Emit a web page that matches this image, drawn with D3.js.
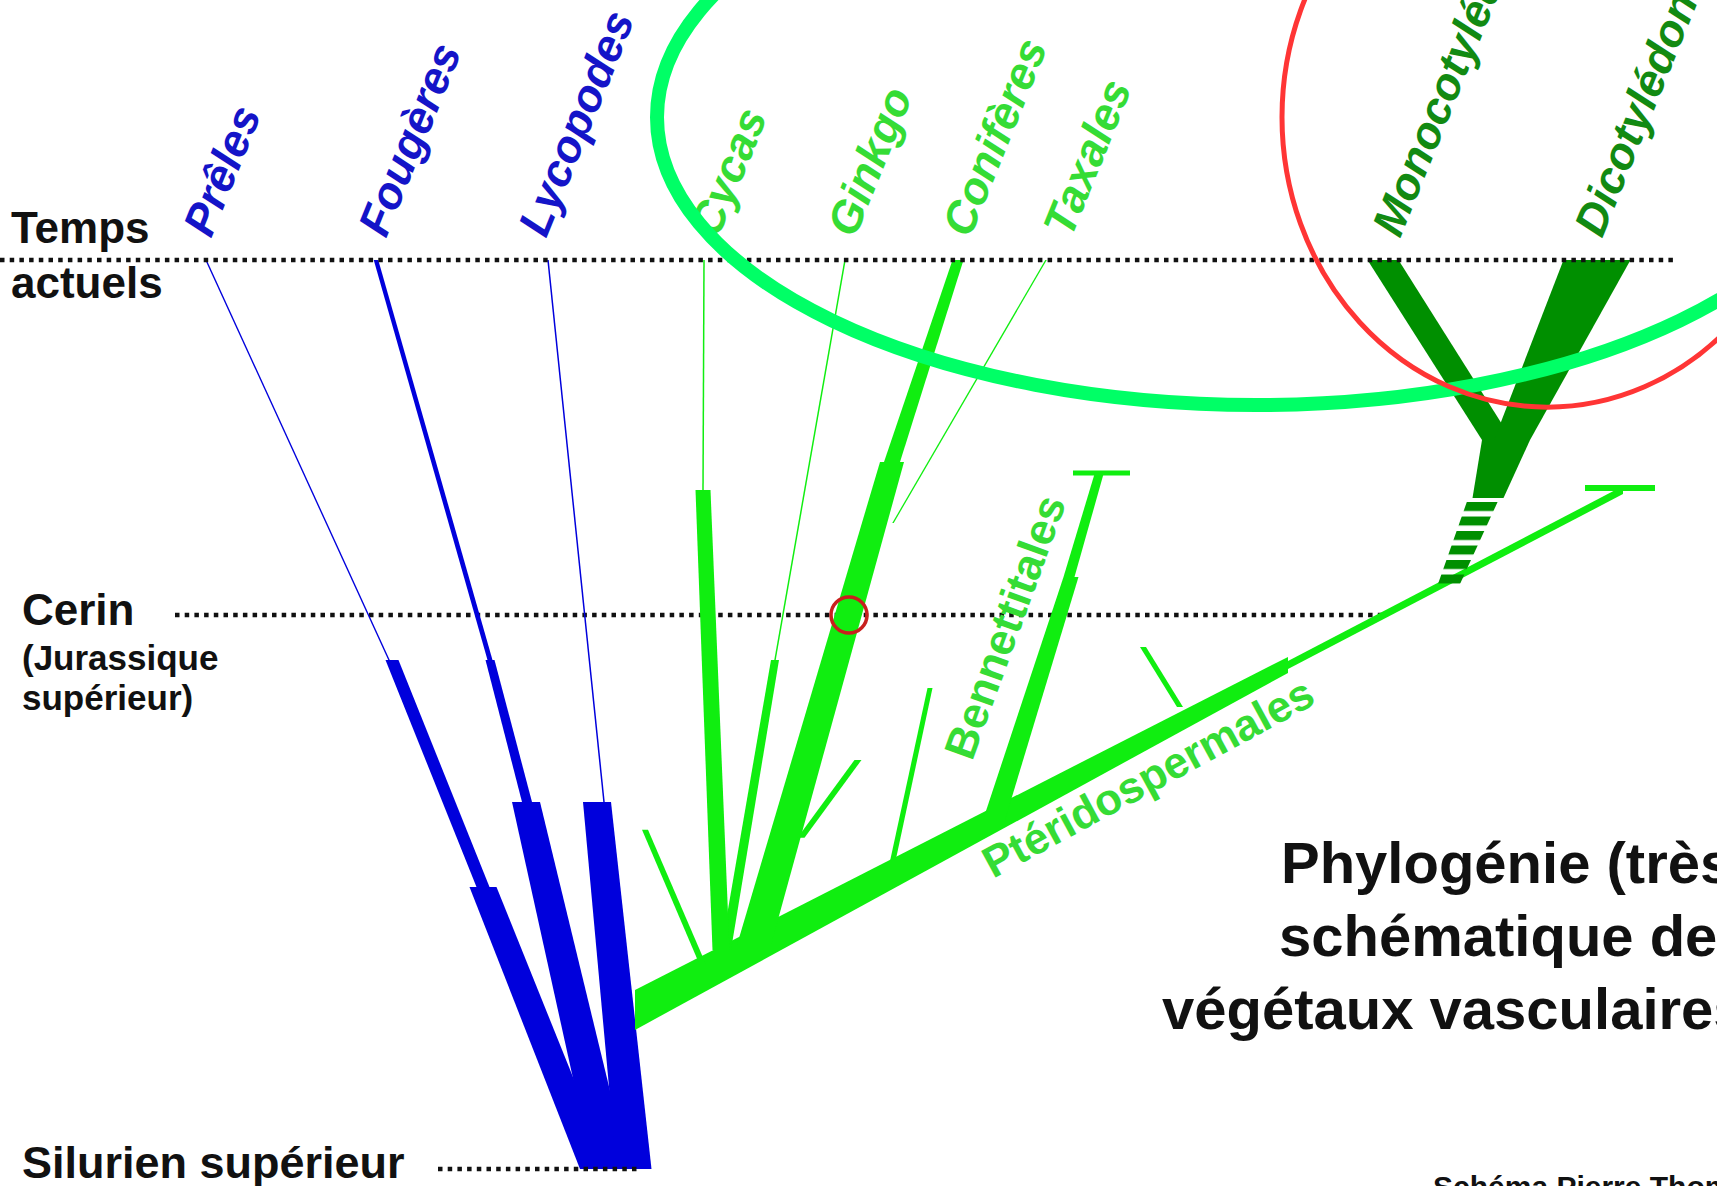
<!DOCTYPE html>
<html>
<head>
<meta charset="utf-8">
<script src="https://cdn.jsdelivr.net/npm/d3@7"></script>
<style>
body { margin: 0; background: #fff; }
svg { display: block; font-family: "Liberation Sans", Arial, sans-serif; }
</style>
</head>
<body>
<div id="chart"></div>
<script>
const width = 1717, height = 1186;

// time marks (age in Ma) and how far their dotted line runs (lineage units)
const timeLabels = [["Temps", "actuels"], ["Cerin", "(Jurassique", "supérieur)"], ["Silurien supérieur"]];
const timeAges = [0, 164, 420];
const timeLineFrom = [0, 17.5, 43.8];
const timeLineTo = [167.4, 138.5, 64.0];

// branches: [x0, t0, w0, x1, t1, w1] -> older end first (lineage pos, age Ma, diversity)
const pteridoBranches = [
    [38.9, 184.8, 0.15, 20.6, 0, 0.15],
    [48.3, 289.7, 1.3, 39.2, 184.8, 1.3],
    [59.5, 420, 3.0, 48.3, 289.7, 2.7],
    [49.0, 184.8, 0.5, 37.6, 0, 0.45],
    [52.7, 250.4, 1.0, 49.0, 184.8, 0.9],
    [61.1, 420, 3.6, 52.6, 250.4, 2.8],
    [60.4, 250.4, 0.15, 54.8, 0, 0.15],
    [63.4, 420, 3.5, 59.7, 250.4, 2.8]
];
const gymnoBranches = [
    [63.5, 346.5, 4.0, 128.8, 187.1, 1.6],
    [128.8, 187.1, 0.8, 162.3, 106.3, 0.8],
    [158.5, 105.4, 0.6, 165.5, 105.4, 0.6],
    [118.0, 206.5, 0.6, 114.3, 178.8, 0.6],
    [99.4, 258.7, 2.2, 107.1, 146.5, 1.5],
    [106.9, 146.5, 1.1, 109.9, 98.9, 0.9],
    [107.3, 98.4, 0.5, 113.0, 98.4, 0.5],
    [89.3, 277.2, 0.55, 93.0, 197.8, 0.5],
    [75.4, 316.5, 3.4, 89.2, 93.3, 2.4],
    [89.2, 93.3, 1.6, 95.8, 0, 1.1],
    [89.3, 121.5, 0.15, 104.6, 0, 0.15],
    [80.1, 267, 0.7, 85.8, 231, 0.7],
    [72.6, 318.8, 1.0, 77.5, 184.8, 0.8],
    [77.5, 184.8, 0.15, 84.5, 0, 0.15],
    [72.1, 318.8, 1.7, 70.3, 106.3, 1.5],
    [70.3, 106.3, 0.15, 70.4, 0, 0.15],
    [70.3, 325.7, 0.65, 64.5, 263.3, 0.6]
];
const angioBranches = [
    [148.8, 110, 3.1, 150.6, 83.2, 4.8],
    [149.7, 83.2, 3.0, 138.3, 0, 3.1],
    [151.2, 83.2, 3.6, 159.7, 0, 6.7]
];
const angioUncertain = [
    [144.9, 149.7, 2.2, 148.3, 110.9, 3.1]
];

// taxa at the top
const taxa = ["Prêles", "Fougères", "Lycopodes", "Cycas", "Ginkgo", "Conifères", "Taxales", "Monocotylédones", "Dicotylédones"];
const taxaGroup = ["pterido", "pterido", "pterido", "gymno", "gymno", "gymno", "gymno", "angio", "angio"];
const taxaLabelX = [21.1, 38.6, 54.6, 71.8, 85.5, 97.0, 107.1, 140.0, 160.2];

// labels written along a branch
const branchLabels = ["Bennettitales", "Ptéridospermales"];
const branchLabelX = [97.2, 99.3];
const branchLabelT = [231.9, 286.0];
const branchLabelAngle = [-70, -28.5];

// Cerin marker and the two circled groups
const cerinMarker = [84.9, 164];
const circledGroups = ["gymno", "angio"];
const circledX = [[65.7, 185.5], [128.2, 181.2]];
const circledT = [[-199, 67], [-200, 68]];

const titleLines = ["Phylogénie (très", "schématique des", "végétaux vasculaires"];
const creditText = "Schéma Pierre Thomas";

const colors = {pterido: "#0000dc", gymno: "#10ee10", angio: "#008f00"};
const labelColors = {pterido: "#1414c8", gymno: "#35dc35", angio: "#128a12"};
const circleColors = {gymno: "#00ff66", angio: "#ff3535"};

const svg = d3.select("#chart").append("svg")
    .attr("width", width)
    .attr("height", height);

svg.append("rect").attr("width", width).attr("height", height).attr("fill", "#fff");

const x = d3.scaleLinear().domain([0, 171.7]).range([0, width]);
const y = d3.scaleLinear().domain([0, 420]).range([260, 1169]);
const w = d3.scaleLinear().domain([0, 10]).range([0, 100]);

const defs = svg.append("defs");
const hatch = defs.append("pattern")
    .attr("id", "hatch")
    .attr("patternUnits", "userSpaceOnUse")
    .attr("x", 0).attr("y", y(110.9) + 2)
    .attr("width", 20).attr("height", 14.5);
hatch.append("rect").attr("width", 20).attr("height", 9).attr("fill", colors.angio);

const line = d3.line();

// a branch is a trapezoid, cut horizontally when steep and vertically when shallow
function branchPath(b) {
    const [x0, t0, w0, x1, t1, w1] = b;
    const p0 = [x(x0), y(t0)], p1 = [x(x1), y(t1)];
    const h0 = w(w0) / 2, h1 = w(w1) / 2;
    let pts;
    if (Math.abs(p1[0] - p0[0]) <= Math.abs(p1[1] - p0[1])) {
        pts = [[p0[0] - h0, p0[1]], [p0[0] + h0, p0[1]], [p1[0] + h1, p1[1]], [p1[0] - h1, p1[1]]];
    } else {
        pts = [[p0[0], p0[1] - h0], [p0[0], p0[1] + h0], [p1[0], p1[1] + h1], [p1[0], p1[1] - h1]];
    }
    return line(pts) + "Z";
}

function dotted(i) {
    svg.append("line")
        .attr("x1", x(timeLineFrom[i])).attr("x2", x(timeLineTo[i]))
        .attr("y1", y(timeAges[i])).attr("y2", y(timeAges[i]))
        .attr("stroke", "#111")
        .attr("stroke-width", 4.5)
        .attr("stroke-dasharray", "4.5 5.2");
}

// Cerin line sits under the branches
dotted(1);

const trees = svg.append("g");
[["pterido", pteridoBranches], ["gymno", gymnoBranches], ["angio", angioBranches]].forEach(([g, data]) => {
    trees.append("g").selectAll("path")
        .data(data)
        .join("path")
        .attr("d", branchPath)
        .attr("fill", colors[g]);
});
trees.append("g").selectAll("path")
    .data(angioUncertain)
    .join("path")
    .attr("d", branchPath)
    .attr("fill", "url(#hatch)");

dotted(0);
dotted(2);

// time labels on the left
const timeText = svg.append("g").attr("font-weight", "bold").attr("fill", "#111");
timeText.append("text").attr("x", 11).attr("y", y(timeAges[0]) - 17).attr("font-size", 44).text(timeLabels[0][0]);
timeText.append("text").attr("x", 11).attr("y", y(timeAges[0]) + 38).attr("font-size", 44).text(timeLabels[0][1]);
timeText.append("text").attr("x", 22).attr("y", y(timeAges[1]) + 10).attr("font-size", 44).text(timeLabels[1][0]);
timeText.append("text").attr("x", 22).attr("y", y(timeAges[1]) + 55).attr("font-size", 35).text(timeLabels[1][1]);
timeText.append("text").attr("x", 22).attr("y", y(timeAges[1]) + 95).attr("font-size", 35).text(timeLabels[1][2]);
timeText.append("text").attr("x", 22).attr("y", y(timeAges[2]) + 9).attr("font-size", 45).text(timeLabels[2][0]);

// taxa names above present time
svg.append("g").selectAll("text")
    .data(taxa)
    .join("text")
    .attr("transform", (d, i) => `translate(${x(taxaLabelX[i])},${y(0) - 21}) rotate(-68)`)
    .attr("font-size", 45)
    .attr("font-weight", "bold")
    .attr("font-style", "italic")
    .attr("fill", (d, i) => labelColors[taxaGroup[i]])
    .text(d => d);

svg.append("g").selectAll("text")
    .data(branchLabels)
    .join("text")
    .attr("transform", (d, i) => `translate(${x(branchLabelX[i])},${y(branchLabelT[i])}) rotate(${branchLabelAngle[i]})`)
    .attr("font-size", 44)
    .attr("font-weight", "bold")
    .attr("fill", labelColors.gymno)
    .text(d => d);

svg.append("circle")
    .attr("cx", x(cerinMarker[0]))
    .attr("cy", y(cerinMarker[1]))
    .attr("r", 18)
    .attr("fill", "none")
    .attr("stroke", "#c8201e")
    .attr("stroke-width", 3.5);

// circled groups
svg.append("g").selectAll("ellipse")
    .data(circledGroups)
    .join("ellipse")
    .attr("cx", (d, i) => (x(circledX[i][0]) + x(circledX[i][1])) / 2)
    .attr("cy", (d, i) => (y(circledT[i][0]) + y(circledT[i][1])) / 2)
    .attr("rx", (d, i) => (x(circledX[i][1]) - x(circledX[i][0])) / 2)
    .attr("ry", (d, i) => (y(circledT[i][1]) - y(circledT[i][0])) / 2)
    .attr("fill", "none")
    .attr("stroke", d => circleColors[d])
    .attr("stroke-width", (d, i) => i === 0 ? 14 : 5);

// title block
const titleX = [1281, 1279, 1162];
svg.append("g").selectAll("text")
    .data(titleLines)
    .join("text")
    .attr("x", (d, i) => titleX[i])
    .attr("y", (d, i) => 883 + i * 73)
    .attr("font-size", 58)
    .attr("font-weight", "bold")
    .attr("fill", "#111")
    .text(d => d);

svg.append("text")
    .attr("x", 1433)
    .attr("y", 1197)
    .attr("font-size", 30)
    .attr("font-weight", "bold")
    .attr("fill", "#111")
    .text(creditText);
</script>
</body>
</html>
